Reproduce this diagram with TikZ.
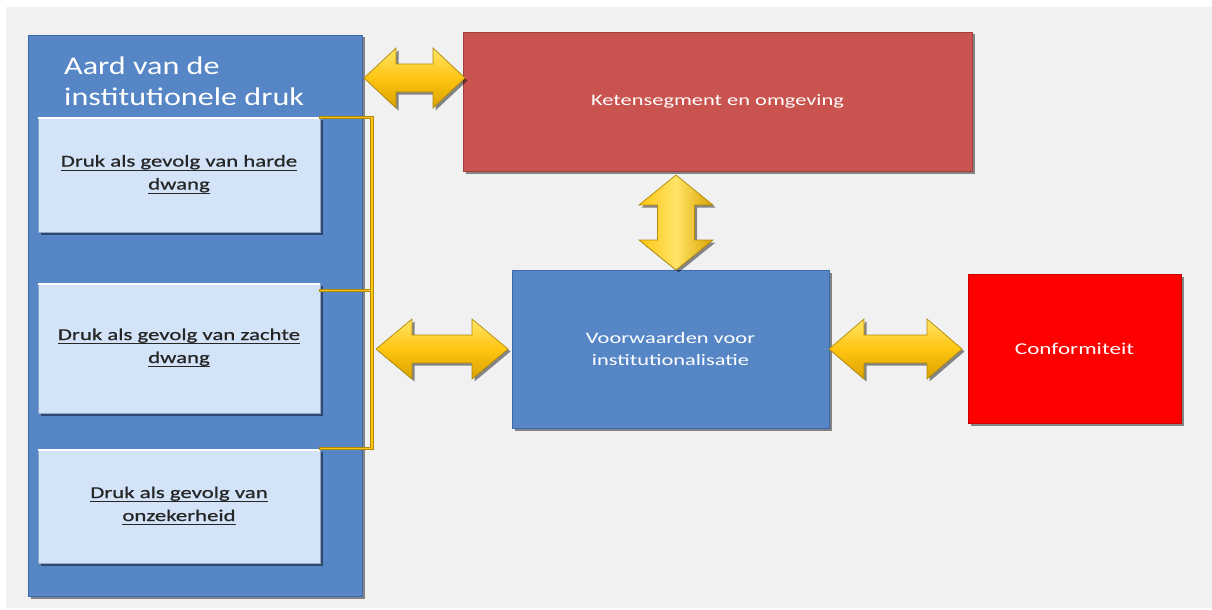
\documentclass[tikz,border=0pt]{standalone}
\usepackage{fontspec}
\setmainfont{Carlito}[FakeStretch=1.4]
\newfontfamily\titlefont{Carlito}[FakeStretch=1.26]
\newfontfamily\innerfont{Carlito}[FakeStretch=1.38, FakeBold=0.8]
\usetikzlibrary{shadows,calc}

\definecolor{pagegray}{HTML}{F1F1F1}
\definecolor{boxblue}{HTML}{5686C6}
\definecolor{boxblueedge}{HTML}{3C6AA6}
\definecolor{paleblue}{HTML}{D3E4F9}
\definecolor{paleedge}{HTML}{8FA8C8}
\definecolor{brickred}{HTML}{C9534F}
\definecolor{brickedge}{HTML}{A33F3C}
\definecolor{signalred}{HTML}{FF0000}
\definecolor{signaledge}{HTML}{C80000}
\definecolor{goldlight}{HTML}{FFE466}
\definecolor{goldmid}{HTML}{FFC512}
\definecolor{golddark}{HTML}{D9A200}
\definecolor{goldedge}{HTML}{B08A08}
\definecolor{inktext}{HTML}{262626}

\tikzset{
  shadowed/.style={drop shadow={shadow xshift=2.5pt, shadow yshift=-2.5pt, opacity=.45, fill=black}},
  panel/.style={rectangle, inner sep=0pt, shadowed},
  outerbox/.style={panel, fill=boxblue, draw=boxblueedge, line width=0.8pt},
  innerbox/.style={panel, fill=paleblue, draw=paleedge, line width=0.6pt, text=inktext,
    align=center, font=\innerfont\fontsize{16.5}{23}\selectfont, minimum width=282pt},
  whitetext/.style={text=white, align=center},
  goldh/.style={draw=goldedge, line width=0.7pt, top color=goldlight, bottom color=golddark, middle color=goldmid, shadowed},
  goldv/.style={draw=goldedge, line width=0.7pt, left color=goldmid, right color=golddark, middle color=goldlight, shadowed},
  bracketline/.style={line width=3.2pt, draw=goldedge, line cap=rect},
  bracketcore/.style={line width=1.1pt, draw=goldmid, line cap=rect},
}

% horizontal double arrow: #1 left tip, #2 right tip, head length, half head, half shaft
\newcommand{\goldharrow}[5]{%
  \path[goldh] let \p1=(#1), \p2=(#2) in
    (\x1,\y1) -- (\x1+#3,\y1+#4) -- (\x1+#3,\y1+#5) -- (\x2-#3,\y1+#5) --
    (\x2-#3,\y1+#4) -- (\x2,\y2) -- (\x2-#3,\y1-#4) -- (\x2-#3,\y1-#5) --
    (\x1+#3,\y1-#5) -- (\x1+#3,\y1-#4) -- cycle;}
% vertical double arrow: #1 top tip, #2 bottom tip
\newcommand{\goldvarrow}[5]{%
  \path[goldv] let \p1=(#1), \p2=(#2) in
    (\x1,\y1) -- (\x1+#4,\y1-#3) -- (\x1+#5,\y1-#3) -- (\x1+#5,\y2+#3) --
    (\x1+#4,\y2+#3) -- (\x2,\y2) -- (\x1-#4,\y2+#3) -- (\x1-#5,\y2+#3) --
    (\x1-#5,\y1-#3) -- (\x1-#4,\y1-#3) -- cycle;}
% underlined line of text with a slightly heavier rule below the descenders
\newsavebox{\ulbox}
\newcommand{\ul}[1]{\sbox{\ulbox}{#1\vphantom{g}}%
  \leavevmode\rlap{\rule[\dimexpr-\dp\ulbox-1.6pt\relax]{\wd\ulbox}{1.3pt}}\usebox{\ulbox}}

\begin{document}
\begin{tikzpicture}[x=1pt, y=-1pt]
\useasboundingbox (0,0) rectangle (1212,610);
\fill[white] (0,0) rectangle (1212,610);
\fill[pagegray] (6,7) rectangle (1212,608);

% left column: kinds of institutional pressure
\node[outerbox, minimum width=334pt, minimum height=561pt] (big) at (195,315.5) {};
\node[anchor=north west, text=white, align=left, inner sep=0pt,
      font=\titlefont\fontsize{25.5}{31}\selectfont] (title) at (64,57)
      {Aard van de\\institutionele druk};

\node[innerbox, minimum height=115pt] (in1) at (179,174.5)
  {\ul{Druk als gevolg van harde}\\\ul{dwang}};
\node[innerbox, minimum height=130pt] (in2) at (179,348)
  {\ul{Druk als gevolg van zachte}\\\ul{dwang}};
\node[innerbox, minimum height=114pt] (in3) at (179,506)
  {\ul{Druk als gevolg van}\\\ul{onzekerheid}};
\foreach \b in {in1,in2,in3}
  \draw[white, line width=1.6pt] ([yshift=-1pt]\b.north west) -- ([yshift=-1pt]\b.north east);

% bracket grouping the first two pressures
\coordinate (br1) at ($(in1.north east)+(0,1)$);
\coordinate (br2) at ($(in2.north east)+(0,8)$);
\coordinate (br3) at (in3.north east);
\coordinate (brx) at (372,0);
\foreach \s in {bracketline, bracketcore}{
  \draw[\s] (br1) -- (br1 -| brx) -- (br3 -| brx) -- (br3);
  \draw[\s] (br2) -- (br2 -| brx);
}

% right-hand blocks
\node[panel, fill=brickred, draw=brickedge, line width=0.6pt,
      minimum width=509pt, minimum height=139pt, whitetext,
      font=\fontsize{16}{22}\selectfont] (ket) at (717.5,101.5) {Ketensegment en omgeving};
\node[panel, fill=boxblue, draw=boxblueedge, line width=0.6pt,
      minimum width=317pt, minimum height=158pt, whitetext,
      font=\fontsize{16}{22}\selectfont] (vw) at (670.5,349) {Voorwaarden voor\\institutionalisatie};
\node[panel, fill=signalred, draw=signaledge, line width=0.6pt,
      minimum width=213pt, minimum height=149pt, whitetext,
      font=\fontsize{16.5}{22}\selectfont] (conf) at (1074.5,348.5) {Conformiteit};

% double arrows between the blocks
\coordinate (a1l) at (364,78);   \coordinate (a1r) at (465,78);
\coordinate (a2l) at (376,349);  \coordinate (a2r) at (508,349);
\coordinate (a3l) at (829,349);  \coordinate (a3r) at (962,349);
\coordinate (a4t) at (676,175);  \coordinate (a4b) at (676,270);
\goldharrow{a1l}{a1r}{32pt}{30pt}{14pt}
\goldharrow{a2l}{a2r}{36pt}{30pt}{14pt}
\goldharrow{a3l}{a3r}{35pt}{30pt}{14pt}
\goldvarrow{a4t}{a4b}{30pt}{37pt}{18.5pt}
\end{tikzpicture}
\end{document}
